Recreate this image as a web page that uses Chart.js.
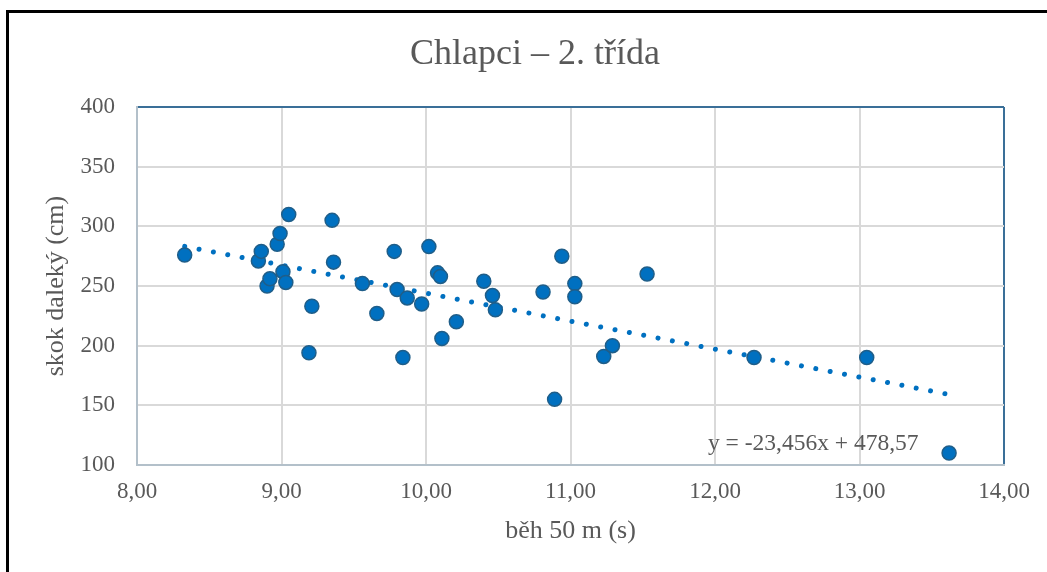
<!DOCTYPE html>
<html>
<head>
<meta charset="utf-8">
<script src="https://cdn.jsdelivr.net/npm/chart.js@4.4.0/dist/chart.umd.min.js"></script>
<style>
  html, body { margin: 0; padding: 0; background: #fff; }
  #wrap { position: relative; width: 1047px; height: 572px; overflow: hidden; }
  #frame { position: absolute; left: 6px; top: 10px; width: 1100px; height: 700px;
           border-left: 3px solid #000; border-top: 3px solid #000; }
  canvas { position: absolute; left: 0; top: 0; }
</style>
</head>
<body>
<div id="wrap">
  <div id="frame"></div>
  <canvas id="chart" width="1047" height="572"></canvas>
</div>
<script>
// běh 50 m (s)
const beh = [8.33, 8.84, 8.86, 8.90, 8.92, 8.97, 8.99, 9.01, 9.03, 9.05,
             9.19, 9.21, 9.35, 9.36, 9.56, 9.66, 9.78, 9.80, 9.84, 9.87,
             9.97, 10.02, 10.08, 10.10, 10.11, 10.21, 10.40, 10.46, 10.48, 10.81,
             10.89, 10.94, 11.03, 11.03, 11.23, 11.29, 11.53, 12.27, 13.05, 13.62];
// skok daleký (cm)
const skok = [276, 271, 279, 250, 256, 285, 294, 262, 253, 310,
              194, 233, 305, 270, 252, 227, 279, 247, 190, 240,
              235, 283, 261, 258, 206, 220, 254, 242, 230, 245,
              155, 275, 252, 241, 191, 200, 260, 190, 190, 110];

// linear trend shown in the chart: y = -23,456x + 478,57
const trendSlope = -23.456;
const trendIntercept = 478.57;
const trendFrom = 8.33;
const trendTo = 13.62;
const trendLabel = 'y = -23,456x + 478,57';

const chartTitle = 'Chlapci – 2. třída';
const xTitle = 'běh 50 m (s)';
const yTitle = 'skok daleký (cm)';

const serif = '"Liberation Serif", "Times New Roman", serif';
const textGrey = '#595959';
const blue = '#0070C0';
const frameBlue = '#3A6F98';
const axisGrey = '#B3C0CA';
const gridGrey = '#D9D9D9';

const points = beh.map((x, i) => ({ x: x, y: skok[i] }));
const trend = [trendFrom, trendTo].map(x => ({ x: x, y: trendSlope * x + trendIntercept }));

const textPlugin = {
  id: 'texts',
  afterDraw(chart) {
    const ctx = chart.ctx;
    const xs = chart.scales.x, ys = chart.scales.y;
    ctx.save();
    ctx.fillStyle = textGrey;
    ctx.textAlign = 'center';
    ctx.textBaseline = 'middle';
    ctx.font = '36px ' + serif;
    ctx.fillText(chartTitle, 535, 55);
    ctx.font = '23.5px ' + serif;
    ctx.fillText(trendLabel, xs.getPixelForValue(12.68), ys.getPixelForValue(117.5));
    ctx.restore();
  }
};

new Chart(document.getElementById('chart'), {
  type: 'scatter',
  data: {
    datasets: [
      {
        label: 'skok',
        data: points,
        pointRadius: 7,
        pointHoverRadius: 7,
        backgroundColor: blue,
        borderColor: '#1F5E89',
        borderWidth: 1.5,
        order: 0
      },
      {
        type: 'line',
        label: 'trend',
        data: trend,
        borderColor: blue,
        borderWidth: 5,
        borderDash: [0.01, 14.6],
        borderCapStyle: 'round',
        pointRadius: 0,
        fill: false,
        order: 1
      }
    ]
  },
  options: {
    responsive: false,
    animation: false,
    devicePixelRatio: 1,
    layout: { padding: { top: 107, right: 43, left: 0, bottom: 0 } },
    plugins: {
      legend: { display: false },
      tooltip: { enabled: false },
      title: { display: false }
    },
    scales: {
      x: {
        type: 'linear',
        min: 8,
        max: 14,
        afterFit: s => { s.height = 107; },
        ticks: {
          stepSize: 1,
          padding: 13,
          color: textGrey,
          font: { family: serif, size: 23 },
          callback: v => v.toFixed(2).replace('.', ',')
        },
        grid: {
          drawTicks: false,
          lineWidth: 2,
          color: c => (c.tick && c.tick.value === 14) ? frameBlue : gridGrey
        },
        border: { display: true, color: axisGrey, width: 2 },
        title: {
          display: true,
          text: xTitle,
          color: textGrey,
          font: { family: serif, size: 26 },
          padding: { top: 0, bottom: 25 }
        }
      },
      y: {
        type: 'linear',
        min: 100,
        max: 400,
        afterFit: s => { s.width = 137; },
        ticks: {
          stepSize: 50,
          padding: 22,
          color: textGrey,
          font: { family: serif, size: 23 }
        },
        grid: {
          drawTicks: false,
          lineWidth: 2,
          color: c => (c.tick && c.tick.value === 400) ? frameBlue : gridGrey
        },
        border: { display: true, color: axisGrey, width: 2 },
        title: {
          display: true,
          text: yTitle,
          color: textGrey,
          font: { family: serif, size: 26 },
          padding: { top: 41, bottom: 0 }
        }
      }
    }
  },
  plugins: [textPlugin]
});
</script>
</body>
</html>
